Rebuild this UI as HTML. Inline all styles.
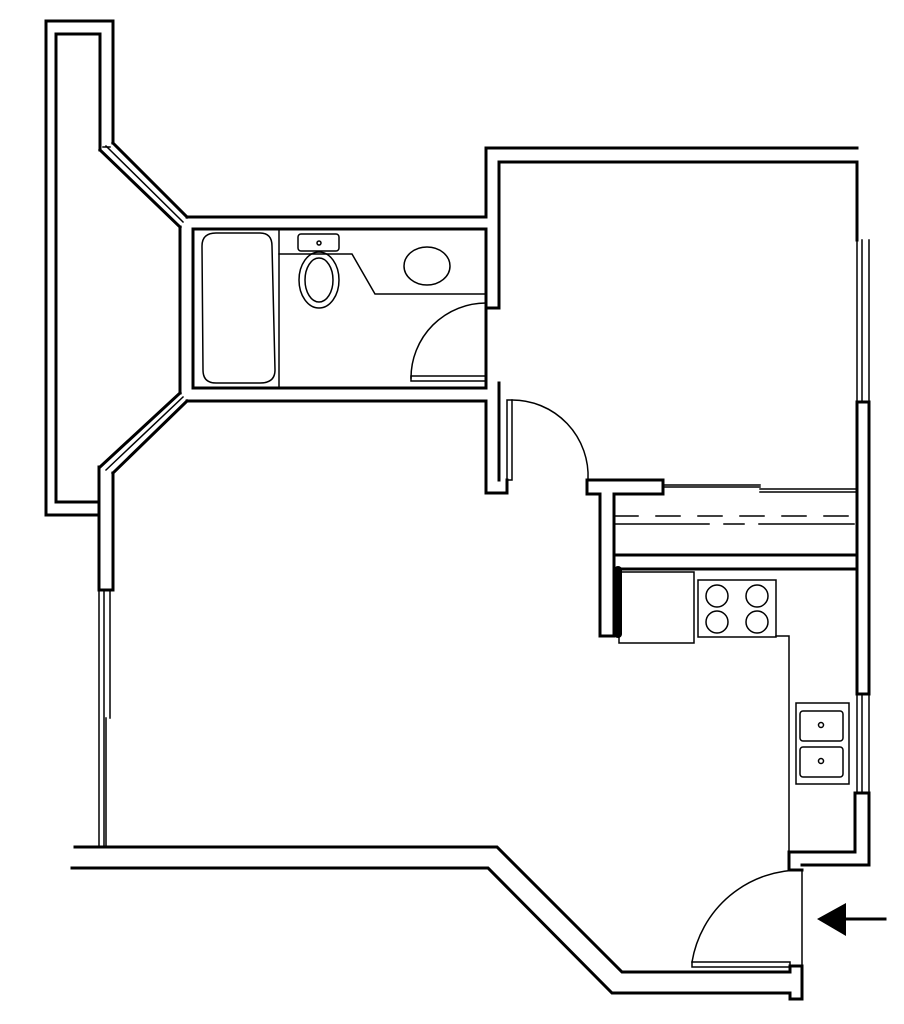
<!DOCTYPE html>
<html><head><style>html,body{margin:0;padding:0;background:#fff}svg{display:block}</style></head>
<body>
<svg width="904" height="1024" viewBox="0 0 904 1024" xmlns="http://www.w3.org/2000/svg" fill="none" stroke="#000" stroke-linecap="square">
<g stroke-width="3">
<!-- left enclosure -->
<polyline points="99,515 46,515 46,21 113,21 113,143"/>
<polyline points="99,502 56,502 56,34 100,34 100,150"/>
<!-- upper diagonal window -->
<line x1="113" y1="143" x2="187" y2="217"/>
<line x1="100" y1="150" x2="180" y2="227"/>
<!-- bath block -->
<polyline points="187,217 486,217 486,148 857,148"/>
<polyline points="499,308 499,162 855,162"/>
<line x1="486" y1="308" x2="499" y2="308"/>
<line x1="180" y1="227" x2="180" y2="393"/>
<rect x="193" y="229" width="293" height="159"/>
<polyline points="187,401 486,401 486,493 507,493 507,480"/>
<polyline points="499,383 499,480"/>
<!-- lower-left diagonal window -->
<line x1="180" y1="393" x2="100" y2="467"/>
<line x1="187" y1="401" x2="113" y2="473"/>
<!-- left thick wall -->
<polyline points="99,467 99,590 113,590 113,473"/>
<!-- right wall -->
<line x1="857" y1="162" x2="857" y2="240"/>
<rect x="857" y="402" width="12" height="292"/>
<polyline points="802,865 869,865 869,793 855,793 855,852 789,852 789,870 802,870"/>
<!-- partition -->
<polyline points="663,480 587,480 587,494 600,494 600,636 614,636 614,494 663,494 663,480"/>
<line x1="614" y1="555" x2="857" y2="555"/>
<line x1="614" y1="569" x2="857" y2="569"/>
<line x1="857" y1="569" x2="857" y2="694"/>
<!-- bottom walls -->
<polyline points="75,847 497,847 622,972 790,972"/>
<polyline points="72,868 488,868 612,993 790,993 790,999 802,999 802,966 790,966 790,972"/>
</g>
<g stroke-width="1.5">
<!-- windows thin -->
<line x1="106" y1="146" x2="183" y2="222"/>
<line x1="106" y1="470" x2="183" y2="397"/>
<line x1="103" y1="147" x2="110" y2="147"/>
<line x1="862" y1="240" x2="862" y2="402"/><line x1="869" y1="240" x2="869" y2="402"/><line x1="857" y1="240" x2="857" y2="402"/>
<line x1="857" y1="694" x2="857" y2="793"/><line x1="862" y1="694" x2="862" y2="793"/><line x1="869" y1="694" x2="869" y2="793"/>
<line x1="99" y1="590" x2="99" y2="847"/><line x1="104" y1="590" x2="104" y2="847"/><line x1="110" y1="590" x2="110" y2="718"/><line x1="106" y1="718" x2="106" y2="847"/>
<!-- bath fixtures -->
<path d="M216,233 H260 Q272,233 272,246 L275,370 Q275,383 260,383 H216 Q203,383 203,370 L202,246 Q202,233 216,233 Z"/>
<line x1="279" y1="229" x2="279" y2="388"/>
<rect x="298" y="234" width="41" height="17" rx="3"/>
<circle cx="319" cy="243" r="2"/>
<ellipse cx="319" cy="280" rx="20" ry="28"/>
<ellipse cx="319" cy="280" rx="14" ry="22"/>
<polyline points="279,254 352,254 375,294 486,294"/>
<ellipse cx="427" cy="266" rx="23" ry="19"/>
<!-- doors -->
<path d="M411,378 A75,75 0 0 1 486,303"/>
<rect x="411" y="376" width="75" height="5"/>
<path d="M512,400 A76,76 0 0 1 588,480"/>
<rect x="507" y="400" width="5" height="80"/>
<path d="M802,870 A110,110 0 0 0 692,962"/>
<rect x="692" y="962" width="98" height="5"/>
<line x1="802" y1="870" x2="802" y2="966"/>
<!-- closet -->
<line x1="663" y1="485" x2="760" y2="485"/><line x1="663" y1="487" x2="760" y2="487"/>
<line x1="760" y1="489" x2="855" y2="489"/><line x1="760" y1="492" x2="855" y2="492"/>
<line x1="614" y1="516" x2="855" y2="516" stroke-dasharray="24,18"/>
<line x1="614" y1="524" x2="855" y2="524" stroke-dasharray="95,15,20,15"/>
<!-- kitchen -->
<rect x="619" y="572" width="75" height="71"/>
<rect x="698" y="580" width="78" height="57"/>
<circle cx="717" cy="596" r="11"/><circle cx="757" cy="596" r="11"/>
<circle cx="717" cy="622" r="11"/><circle cx="757" cy="622" r="11"/>
<polyline points="776,636 789,636 789,852"/>
<rect x="796" y="703" width="53" height="81"/>
<rect x="800" y="711" width="43" height="30" rx="3"/>
<rect x="800" y="747" width="43" height="30" rx="3"/>
<circle cx="821" cy="725" r="2.5"/><circle cx="821" cy="761" r="2.5"/>
</g>
<rect x="614" y="566" width="8" height="72" rx="4" fill="#000" stroke="none"/>
<polygon points="817,919 846,903 846,936" fill="#000" stroke="none"/>
<line x1="846" y1="919" x2="885" y2="919" stroke-width="3"/>
</svg>
</body></html>
